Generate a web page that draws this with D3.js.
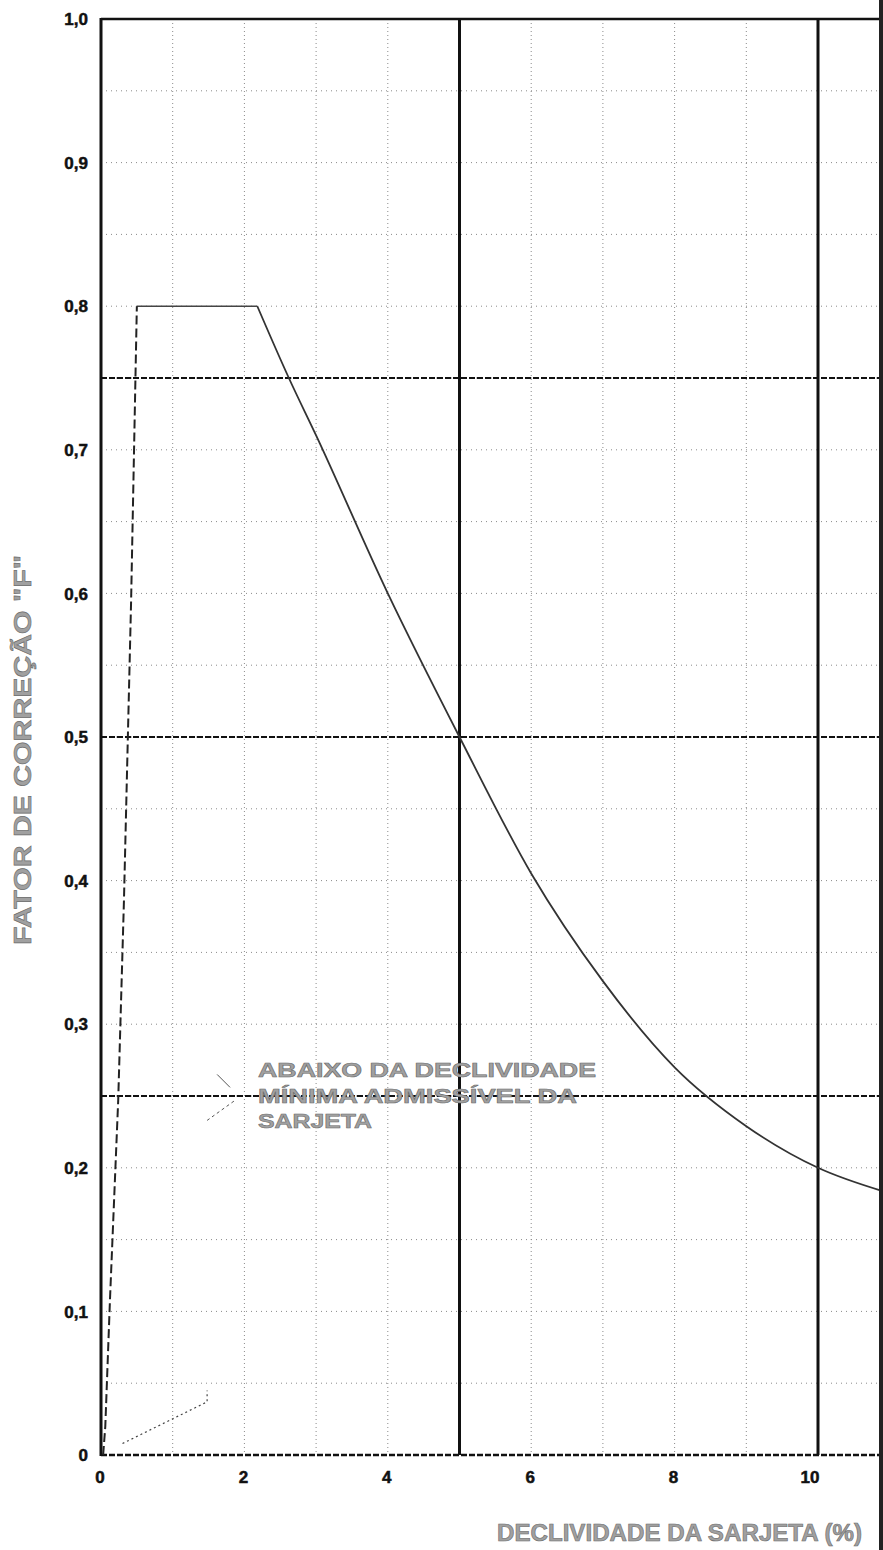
<!DOCTYPE html>
<html lang="pt">
<head>
<meta charset="utf-8">
<title>Fator de correção F</title>
<script src="https://cdn.jsdelivr.net/npm/d3@7"></script>
<style>
  body { margin: 0; background: #fff; }
  svg text { font-family: "Liberation Sans", Arial, sans-serif; font-weight: bold; }
</style>
</head>
<body>
<div id="chart"></div>
<script>
// Data
var curve_desc = [[2.18, 0.80], [2.62, 0.75], [3.0, 0.71], [4.0, 0.60], [5.0, 0.50], [6.0, 0.405],
                  [7.0, 0.33], [8.0, 0.27], [9.0, 0.229], [10.0, 0.20], [10.95, 0.183]];
var curve_flat = [[0.5, 0.80], [2.18, 0.80]];
var curve_rise = [[0.03, 0.0], [0.06, 0.02], [0.125, 0.108], [0.24, 0.247], [0.32, 0.386], [0.42, 0.595], [0.5, 0.80]];
var leader_solid = [[1.62, 0.265], [1.80, 0.256]];
var leader_dash = [[1.48, 0.233], [1.87, 0.247]];
var leader_low = [[0.30, 0.008], [1.48, 0.037], [1.48, 0.045]];
var x_ticks = [0, 2, 4, 6, 8, 10];
var y_ticks = [0, 0.1, 0.2, 0.3, 0.4, 0.5, 0.6, 0.7, 0.8, 0.9, 1.0];
var y_tick_labels = ["0", "0,1", "0,2", "0,3", "0,4", "0,5", "0,6", "0,7", "0,8", "0,9", "1,0"];
var x_minor = d3.range(1, 11);
var y_minor = d3.range(0.05, 1.0, 0.05);
var x_major = [5, 10];
var y_major = [0.25, 0.5, 0.75];
var note_lines = ["ABAIXO DA DECLIVIDADE", "MÍNIMA ADMISSÍVEL DA", "SARJETA"];
var x_title = "DECLIVIDADE DA SARJETA (%)";
var y_title = "FATOR DE CORREÇÃO \"F\"";

var width = 883, height = 1550;
var x = d3.scaleLinear().domain([0, 10]).range([101, 818]);
var y = d3.scaleLinear().domain([0, 1]).range([1455, 19]);
var right = width;

var svg = d3.select("#chart").append("svg")
  .attr("width", width).attr("height", height);

// minor dotted grid
svg.append("g").selectAll("line").data(x_minor).enter().append("line")
  .attr("x1", d => x(d)).attr("x2", d => x(d)).attr("y1", y(1)).attr("y2", y(0))
  .attr("stroke", "#8a8a8a").attr("stroke-width", 1).attr("stroke-dasharray", "1,3");
svg.append("g").selectAll("line").data(y_minor).enter().append("line")
  .attr("x1", x(0)).attr("x2", right).attr("y1", d => y(d)).attr("y2", d => y(d))
  .attr("stroke", "#8a8a8a").attr("stroke-width", 1).attr("stroke-dasharray", "1,4");

// major lines
svg.append("g").selectAll("line").data(y_major).enter().append("line")
  .attr("x1", x(0)).attr("x2", right).attr("y1", d => y(d)).attr("y2", d => y(d))
  .attr("stroke", "#111").attr("stroke-width", 2).attr("stroke-dasharray", "6,2");
svg.append("line").attr("x1", x(0)).attr("x2", right).attr("y1", y(0)).attr("y2", y(0))
  .attr("stroke", "#111").attr("stroke-width", 2.5).attr("stroke-dasharray", "6,2");
svg.append("g").selectAll("line").data(x_major).enter().append("line")
  .attr("x1", d => x(d)).attr("x2", d => x(d)).attr("y1", y(1)).attr("y2", y(0))
  .attr("stroke", "#111").attr("stroke-width", 3);
svg.append("line").attr("x1", x(0)).attr("x2", right).attr("y1", y(1)).attr("y2", y(1))
  .attr("stroke", "#111").attr("stroke-width", 2.5);
svg.append("line").attr("x1", x(0)).attr("x2", x(0)).attr("y1", y(1) - 1).attr("y2", y(0) + 1)
  .attr("stroke", "#111").attr("stroke-width", 3);

// curves
var line = d3.line().x(d => x(d[0])).y(d => y(d[1]));
var smooth = d3.line().x(d => x(d[0])).y(d => y(d[1])).curve(d3.curveMonotoneX);
svg.append("path").attr("d", smooth(curve_desc)).attr("fill", "none")
  .attr("stroke", "#333").attr("stroke-width", 1.8);
svg.append("path").attr("d", line(curve_flat)).attr("fill", "none")
  .attr("stroke", "#444").attr("stroke-width", 1.6);
svg.append("path").attr("d", line(curve_rise)).attr("fill", "none")
  .attr("stroke", "#222").attr("stroke-width", 2).attr("stroke-dasharray", "9,4");

// leader lines
svg.append("path").attr("d", line(leader_solid)).attr("fill", "none")
  .attr("stroke", "#555").attr("stroke-width", 1);
svg.append("path").attr("d", line(leader_dash)).attr("fill", "none")
  .attr("stroke", "#555").attr("stroke-width", 1).attr("stroke-dasharray", "3,3");
svg.append("path").attr("d", line(leader_low)).attr("fill", "none")
  .attr("stroke", "#444").attr("stroke-width", 1.2).attr("stroke-dasharray", "2,3");

// tick labels
svg.append("g").selectAll("text").data(y_ticks).enter().append("text")
  .attr("x", 88).attr("y", d => y(d)).attr("dy", "0.36em")
  .attr("text-anchor", "end").attr("font-size", 17).attr("fill", "#111")
  .attr("stroke", "#111").attr("stroke-width", 0.5)
  .text((d, i) => y_tick_labels[i]);
svg.append("g").selectAll("text").data(x_ticks).enter().append("text")
  .attr("x", d => x(d) - (d === 10 ? 8 : 1)).attr("y", 1477).attr("dy", "0.36em")
  .attr("text-anchor", "middle").attr("font-size", 17).attr("fill", "#111")
  .attr("stroke", "#111").attr("stroke-width", 0.5)
  .text(d => d);

// annotation
var note_widths = [338, 319, 114];
var note_base = [1077, 1103, 1128];
svg.append("g").selectAll("text").data(note_lines).enter().append("text")
  .attr("x", 258).attr("y", (d, i) => note_base[i])
  .attr("font-size", 20).attr("fill", "#a0a0a0").attr("stroke", "#6d6d6d").attr("stroke-width", 0.6)
  .attr("textLength", (d, i) => note_widths[i]).attr("lengthAdjust", "spacingAndGlyphs")
  .text(d => d);

// axis titles
svg.append("text").attr("x", 497).attr("y", 1541)
  .attr("font-size", 23).attr("fill", "#a0a0a0").attr("stroke", "#6d6d6d").attr("stroke-width", 0.6)
  .attr("textLength", 365).attr("lengthAdjust", "spacingAndGlyphs")
  .text(x_title);
svg.append("text").attr("transform", "translate(31,945) rotate(-90)")
  .attr("font-size", 24).attr("fill", "#a0a0a0").attr("stroke", "#6d6d6d").attr("stroke-width", 0.6)
  .attr("textLength", 390).attr("lengthAdjust", "spacingAndGlyphs")
  .text(y_title);

// scan edge on the right
svg.append("rect").attr("x", 879).attr("y", 0).attr("width", 4).attr("height", height).attr("fill", "#222");
</script>
</body>
</html>
